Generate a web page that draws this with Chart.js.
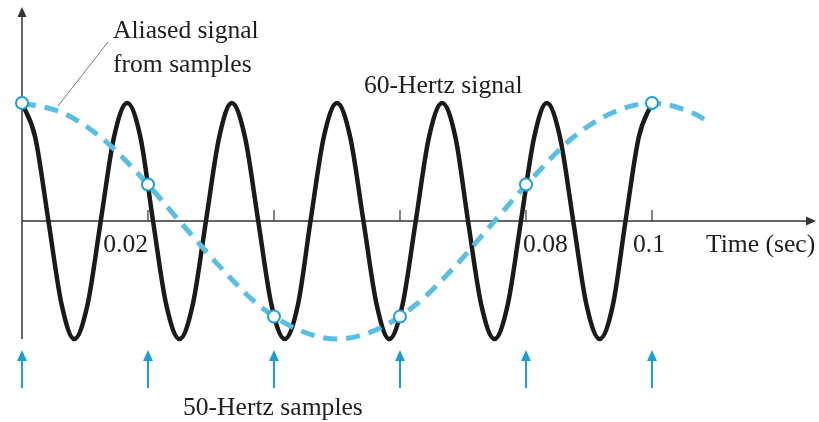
<!DOCTYPE html>
<html>
<head>
<meta charset="utf-8">
<script src="https://cdn.jsdelivr.net/npm/chart.js@4.4.1/dist/chart.umd.min.js"></script>
<style>
  html, body { margin: 0; padding: 0; background: #fff; }
  #chart { display: block; }
</style>
</head>
<body>
<canvas id="chart" width="819" height="422"></canvas>
<script>
// 60 Hz signal, read every 1/8 period (sec, relative amplitude)
const sigTime = [0, 0.0021, 0.0042, 0.0063, 0.0083, 0.0104, 0.0125, 0.0146,
  0.0167, 0.0188, 0.0208, 0.0229, 0.025, 0.0271, 0.0292, 0.0313,
  0.0333, 0.0354, 0.0375, 0.0396, 0.0417, 0.0438, 0.0458, 0.0479,
  0.05, 0.0521, 0.0542, 0.0563, 0.0583, 0.0604, 0.0625, 0.0646,
  0.0667, 0.0688, 0.0708, 0.0729, 0.075, 0.0771, 0.0792, 0.0813,
  0.0833, 0.0854, 0.0875, 0.0896, 0.0917, 0.0938, 0.0958, 0.0979, 0.1];
const sigValue = [1, 0.71, 0, -0.71, -1, -0.71, 0, 0.71,
  1, 0.71, 0, -0.71, -1, -0.71, 0, 0.71,
  1, 0.71, 0, -0.71, -1, -0.71, 0, 0.71,
  1, 0.71, 0, -0.71, -1, -0.71, 0, 0.71,
  1, 0.71, 0, -0.71, -1, -0.71, 0, 0.71,
  1, 0.71, 0, -0.71, -1, -0.71, 0, 0.71, 1];

// aliased 10 Hz signal seen through the samples
const aliasTime = [0, 0.0063, 0.0125, 0.0188, 0.025, 0.0313, 0.0375, 0.0438,
  0.05, 0.0563, 0.0625, 0.0688, 0.075, 0.0813, 0.0875, 0.0938, 0.1, 0.1063, 0.109];
const aliasValue = [1, 0.92, 0.71, 0.38, 0, -0.38, -0.71, -0.92,
  -1, -0.92, -0.71, -0.38, 0, 0.38, 0.71, 0.92, 1, 0.92, 0.84];

// 50 Hz sample instants and the values picked up
const sampleTime = [0, 0.02, 0.04, 0.06, 0.08, 0.1];
const sampleValue = [1, 0.31, -0.81, -0.81, 0.31, 1];

const tickTime = [0.02, 0.04, 0.06, 0.08, 0.1];
const tickLabel = ['0.02', '', '', '0.08', '0.1'];

const toPts = (xs, ys) => xs.map((x, i) => ({ x, y: ys[i] }));

const FONT = '25.6px "Liberation Serif", "DejaVu Serif", serif';
const INK = '#1e1e1e';
const BLUE = '#1a9ed8';

const drawDecor = {
  id: 'drawDecor',
  beforeDatasetsDraw(chart) {
    const { ctx, scales: { x, y } } = chart;
    const x0 = x.getPixelForValue(0);
    const y0 = y.getPixelForValue(0);
    ctx.save();
    ctx.strokeStyle = '#333';
    ctx.fillStyle = '#333';
    ctx.lineWidth = 1.5;
    // vertical axis
    ctx.beginPath();
    ctx.moveTo(x0, y.getPixelForValue(-1));
    ctx.lineTo(x0, 14);
    ctx.stroke();
    ctx.beginPath();
    ctx.moveTo(x0, 7); ctx.lineTo(x0 - 4.5, 17); ctx.lineTo(x0 + 4.5, 17);
    ctx.closePath(); ctx.fill();
    // time axis
    ctx.beginPath();
    ctx.moveTo(x0, y0);
    ctx.lineTo(808, y0);
    ctx.stroke();
    ctx.beginPath();
    ctx.moveTo(816, y0); ctx.lineTo(806, y0 - 4.5); ctx.lineTo(806, y0 + 4.5);
    ctx.closePath(); ctx.fill();
    // ticks
    ctx.lineWidth = 1.2;
    tickTime.forEach(t => {
      const px = x.getPixelForValue(t);
      ctx.beginPath();
      ctx.moveTo(px, y0);
      ctx.lineTo(px, y0 - 11);
      ctx.stroke();
    });
    ctx.restore();
  },
  afterDraw(chart) {
    const { ctx, scales: { x } } = chart;
    ctx.save();
    ctx.font = FONT;
    ctx.fillStyle = INK;
    ctx.textBaseline = 'alphabetic';
    // tick labels placed clear of the curves
    const align = ['right', 'center', 'center', 'left', 'center'];
    const shift = [0, 0, 0, -3, -3];
    tickTime.forEach((t, i) => {
      if (!tickLabel[i]) return;
      ctx.textAlign = align[i];
      ctx.fillText(tickLabel[i], x.getPixelForValue(t) + shift[i], 252);
    });
    ctx.textAlign = 'left';
    ctx.fillText('Time (sec)', 706, 252);
    ctx.fillText('Aliased signal', 113, 38);
    ctx.fillText('from samples', 113, 72);
    ctx.fillText('60-Hertz signal', 364, 93);
    ctx.fillText('50-Hertz samples', 183, 415);

    // leader line
    ctx.strokeStyle = '#777';
    ctx.lineWidth = 1;
    ctx.beginPath();
    ctx.moveTo(108, 42);
    ctx.lineTo(58, 106);
    ctx.stroke();

    // sample arrows
    ctx.strokeStyle = BLUE;
    ctx.fillStyle = BLUE;
    ctx.lineWidth = 2;
    sampleTime.forEach(t => {
      const px = x.getPixelForValue(t);
      ctx.beginPath();
      ctx.moveTo(px, 388);
      ctx.lineTo(px, 358);
      ctx.stroke();
      ctx.beginPath();
      ctx.moveTo(px, 350); ctx.lineTo(px - 5, 361); ctx.lineTo(px + 5, 361);
      ctx.closePath(); ctx.fill();
    });
    ctx.restore();
  }
};

new Chart(document.getElementById('chart'), {
  type: 'line',
  data: {
    datasets: [
      {
        label: 'samples',
        data: toPts(sampleTime, sampleValue),
        showLine: false,
        pointRadius: 6,
        pointBorderWidth: 2,
        pointBackgroundColor: '#fff',
        pointBorderColor: BLUE
      },
      {
        label: 'aliased',
        data: toPts(aliasTime, aliasValue),
        borderColor: '#58bfe2',
        borderWidth: 5,
        borderDash: [14, 9],
        borderCapStyle: 'butt',
        cubicInterpolationMode: 'monotone',
        pointRadius: 0,
        fill: false
      },
      {
        label: '60 Hz',
        data: toPts(sigTime, sigValue),
        borderColor: '#1a1a1a',
        borderWidth: 4.5,
        cubicInterpolationMode: 'monotone',
        pointRadius: 0,
        fill: false
      }
    ]
  },
  options: {
    responsive: false,
    animation: false,
    devicePixelRatio: 1,
    layout: { padding: 0, autoPadding: false },
    plugins: { legend: { display: false }, tooltip: { enabled: false } },
    scales: {
      x: { type: 'linear', min: -0.00349, max: 0.12651, display: false },
      y: { min: -1.703, max: 1.873, display: false }
    }
  },
  plugins: [drawDecor]
});
</script>
</body>
</html>
